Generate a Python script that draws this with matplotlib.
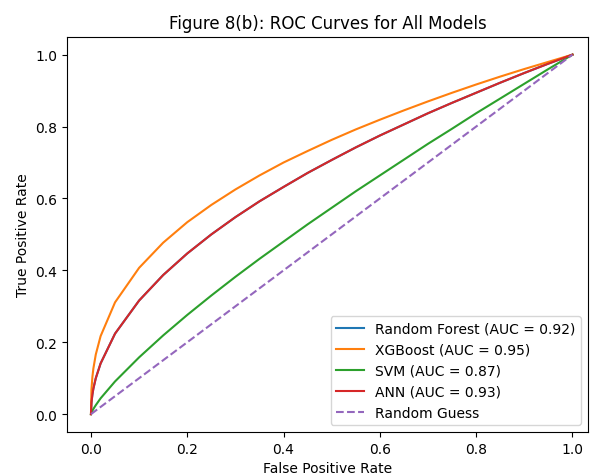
import matplotlib
matplotlib.use("Agg")
import matplotlib.pyplot as plt

# values
fpr = [0.0, 0.001, 0.003, 0.005, 0.01, 0.02, 0.05, 0.1, 0.15, 0.2, 0.25, 0.3, 0.35, 0.4, 0.45,
       0.5, 0.55, 0.6, 0.65, 0.7, 0.75, 0.8, 0.85, 0.9, 0.95, 1.0]
tpr_rf = [0.0, 0.032, 0.055, 0.071, 0.100, 0.141, 0.224, 0.316, 0.387, 0.447, 0.500, 0.548, 0.592,
          0.632, 0.671, 0.707, 0.742, 0.775, 0.806, 0.837, 0.866, 0.894, 0.922, 0.949, 0.975, 1.0]
tpr_xgb = [0.0, 0.068, 0.104, 0.127, 0.166, 0.217, 0.311, 0.407, 0.477, 0.534, 0.582, 0.625, 0.664,
           0.700, 0.732, 0.763, 0.792, 0.819, 0.845, 0.870, 0.894, 0.917, 0.939, 0.960, 0.980, 1.0]
tpr_svm = [0.0, 0.004, 0.0096, 0.0144, 0.025, 0.044, 0.091, 0.158, 0.219, 0.276, 0.330, 0.382, 0.432,
           0.480, 0.528, 0.574, 0.620, 0.664, 0.708, 0.752, 0.794, 0.837, 0.878, 0.919, 0.960, 1.0]
tpr_ann = [0.0, 0.032, 0.055, 0.071, 0.100, 0.141, 0.224, 0.316, 0.387, 0.447, 0.500, 0.548, 0.592,
           0.632, 0.671, 0.707, 0.742, 0.775, 0.806, 0.837, 0.866, 0.894, 0.922, 0.949, 0.975, 1.0]
labels = ["Random Forest (AUC = 0.92)", "XGBoost (AUC = 0.95)", "SVM (AUC = 0.87)", "ANN (AUC = 0.93)"]

fig = plt.figure(figsize=(5.92, 4.77), dpi=100)
ax = fig.add_subplot(111)
fig.subplots_adjust(left=0.113, right=0.993, bottom=0.092, top=0.921)

for tpr, lab in zip([tpr_rf, tpr_xgb, tpr_svm, tpr_ann], labels):
    ax.plot(fpr, tpr, label=lab, linewidth=1.5)
ax.plot([0, 1], [0, 1], linestyle="--", label="Random Guess")

ax.set_xlim(-0.05, 1.032)
ax.set_xlabel("False Positive Rate")
ax.set_ylabel("True Positive Rate")
ax.set_title("Figure 8(b): ROC Curves for All Models")
ax.legend(loc="lower right")

fig.savefig("out.png", dpi=100)
